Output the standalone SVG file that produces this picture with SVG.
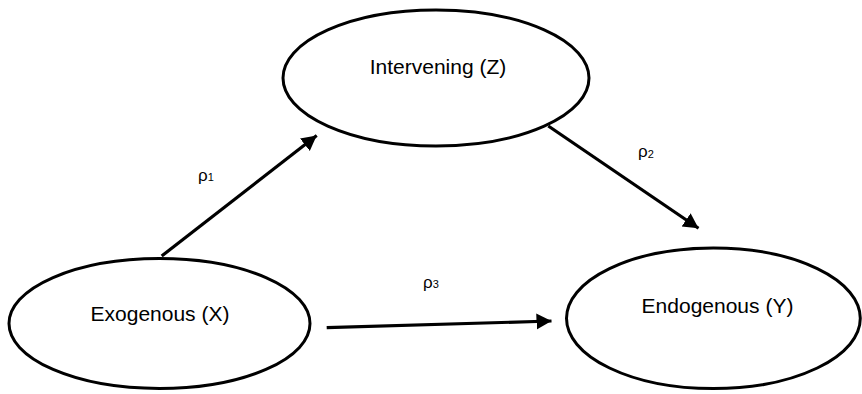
<svg xmlns="http://www.w3.org/2000/svg" width="862" height="394" viewBox="0 0 862 394">
<style>
.node ellipse{fill:#fff;stroke:#000;stroke-width:3}
.lbl{font-family:"Liberation Sans",Arial,sans-serif;font-size:21px;fill:#000;text-anchor:middle}
.rho{font-family:"Liberation Sans",Arial,sans-serif;font-size:17px;fill:#000}
.sub{font-size:11px}
.edge{stroke:#000;stroke-width:3.2;fill:none;marker-end:url(#ah)}
</style>
<defs>
<marker id="ah" markerUnits="userSpaceOnUse" markerWidth="16" markerHeight="17" refX="15" refY="8" orient="auto">
<path d="M0,0 L15,8 L0,16 z" fill="#000"/>
</marker>
</defs>
<rect width="862" height="394" fill="#fff"/>
<g id="connectors">
<line class="edge" x1="161.7" y1="256" x2="316.7" y2="135.5"/>
<line class="edge" x1="548.3" y1="126" x2="698.5" y2="228.3"/>
<line class="edge" x1="326.7" y1="327.7" x2="551.5" y2="321"/>
</g>
<g id="node-z" class="node">
<ellipse cx="436" cy="78" rx="153" ry="68"/>
<text class="lbl" x="438" y="74">Intervening (Z)</text>
</g>
<g id="node-x" class="node">
<ellipse cx="159.5" cy="323.5" rx="150.5" ry="65"/>
<text class="lbl" x="160" y="321">Exogenous (X)</text>
</g>
<g id="node-y" class="node">
<ellipse cx="713.4" cy="318.3" rx="146.9" ry="70.3"/>
<text class="lbl" x="717.5" y="313.3">Endogenous (Y)</text>
</g>
<g id="labels">
<text class="rho" x="198" y="181">ρ<tspan class="sub" dy="0">1</tspan></text>
<text class="rho" x="638" y="156.5">ρ<tspan class="sub" dy="1">2</tspan></text>
<text class="rho" x="423" y="288">ρ<tspan class="sub" dy="0">3</tspan></text>
</g>
</svg>
